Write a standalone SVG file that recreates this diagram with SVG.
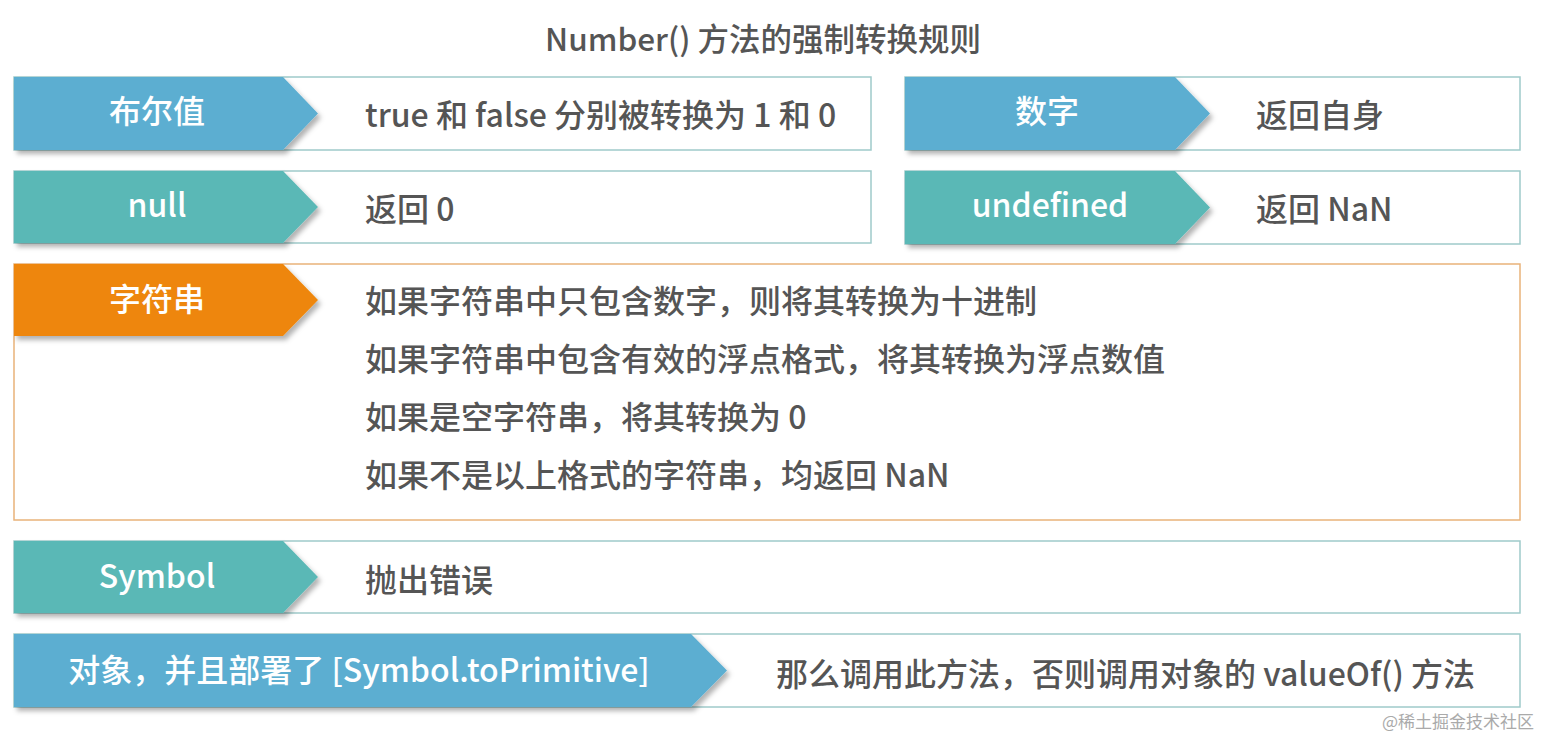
<svg xmlns="http://www.w3.org/2000/svg" width="1548" height="738" viewBox="0 0 1548 738">
<defs>
<filter id="sh" x="-5%" y="-20%" width="115%" height="150%">
<feDropShadow dx="3" dy="4" stdDeviation="2.5" flood-color="#000" flood-opacity="0.3"/>
</filter>
</defs>
<style>
text{font-family:"Noto Sans CJK SC","Noto Sans",sans-serif;font-weight:500}
.box{fill:#fff;stroke:#9fcaca;stroke-width:1.5}
.obox{fill:#fff;stroke:#e9b37a;stroke-width:1.5}
.blue{fill:#5baed1;filter:url(#sh)}
.teal{fill:#5ab8b6;filter:url(#sh)}
.orange{fill:#ee8608;filter:url(#sh)}
.lab{fill:#fff;font-size:32px;text-anchor:middle}
.desc{fill:#555;font-size:32px}
.title{fill:#555;font-size:31.5px;text-anchor:middle}
.wm{fill:#aaa;font-size:17px;font-weight:400}
</style>
<rect width="1548" height="738" fill="#fff"/>
<text class="title" x="763" y="51">Number() 方法的强制转换规则</text>

<g id="bool">
<rect class="box" x="14" y="77" width="857" height="73"/>
<polygon class="blue" points="14,77 283,77 318,113.5 283,150 14,150"/>
<text class="lab" x="157" y="123">布尔值</text>
<text class="desc" x="365" y="127">true 和 false 分别被转换为 1 和 0</text>
</g>

<g id="number">
<rect class="box" x="905" y="77" width="615" height="73"/>
<polygon class="blue" points="905,77 1175,77 1210,113.5 1175,150 905,150"/>
<text class="lab" x="1047" y="123">数字</text>
<text class="desc" x="1256" y="127">返回自身</text>
</g>

<g id="null">
<rect class="box" x="14" y="171" width="857" height="72"/>
<polygon class="teal" points="14,171 283,171 318,207 283,243 14,243"/>
<text class="lab" x="157" y="217">null</text>
<text class="desc" x="365" y="221">返回 0</text>
</g>

<g id="undefined">
<rect class="box" x="905" y="171" width="615" height="73"/>
<polygon class="teal" points="905,171 1175,171 1210,207.5 1175,244 905,244"/>
<text class="lab" x="1050" y="217">undefined</text>
<text class="desc" x="1256" y="221">返回 NaN</text>
</g>

<g id="string">
<rect class="obox" x="14" y="264" width="1506" height="256"/>
<polygon class="orange" points="14,264 283,264 318,300 283,336 14,336"/>
<text class="lab" x="157" y="311">字符串</text>
<text class="desc" x="365" y="313">如果字符串中只包含数字，则将其转换为十进制</text>
<text class="desc" x="365" y="371">如果字符串中包含有效的浮点格式，将其转换为浮点数值</text>
<text class="desc" x="365" y="429">如果是空字符串，将其转换为 0</text>
<text class="desc" x="365" y="487">如果不是以上格式的字符串，均返回 NaN</text>
</g>

<g id="symbol">
<rect class="box" x="14" y="541" width="1506" height="72"/>
<polygon class="teal" points="14,541 283,541 318,577 283,613 14,613"/>
<text class="lab" x="157" y="588">Symbol</text>
<text class="desc" x="365" y="592">抛出错误</text>
</g>

<g id="object">
<rect class="box" x="14" y="634" width="1506" height="73"/>
<polygon class="blue" points="14,634 691,634 727,670.5 691,707 14,707"/>
<text class="lab" x="359" y="682">对象，并且部署了 [Symbol.toPrimitive]</text>
<text class="desc" x="776" y="686">那么调用此方法，否则调用对象的 valueOf() 方法</text>
</g>

<g id="connectors"></g>

<text class="wm" x="1382" y="728">@稀土掘金技术社区</text>
</svg>
